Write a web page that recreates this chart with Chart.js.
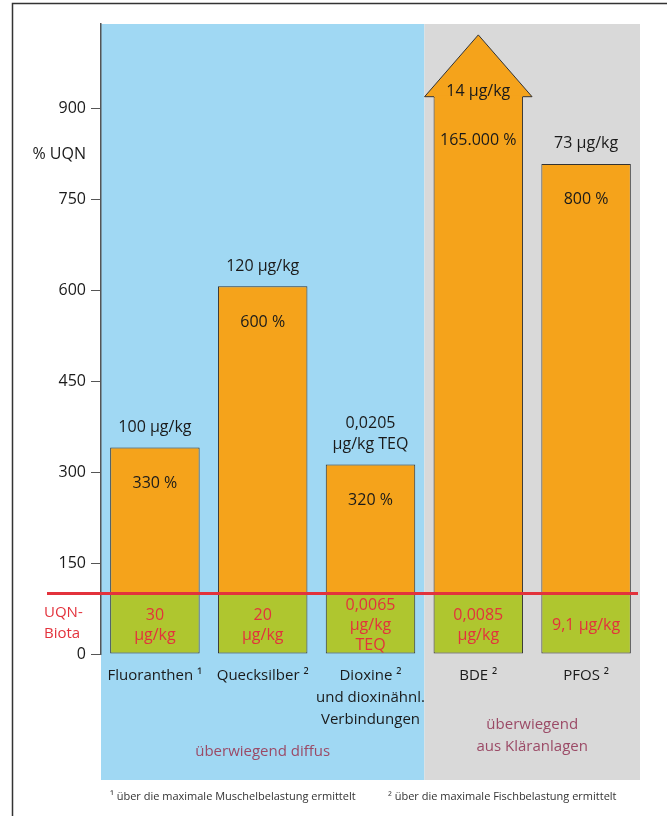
<!DOCTYPE html>
<html>
<head>
<meta charset="utf-8">
<script src="https://cdn.jsdelivr.net/npm/chart.js@4/dist/chart.umd.min.js"></script>
<style>
html, body { margin: 0; padding: 0; background: #fff; }
canvas { display: block; }
</style>
</head>
<body>
<canvas id="myChart" width="667" height="816"></canvas>
<script>
// data (% UQN scale, the UQN line sits at 100)
var categories = [["Fluoranthen ¹"], ["Quecksilber ²"], ["Dioxine ²", "und dioxinähnl.", "Verbindungen"], ["BDE ²"], ["PFOS ²"]];
var uqnLevel = [100, 100, 100, 100, 100];
var barTops = [341, 607, 313, 920, 809];
var arrowTip = [null, null, null, 1022, null];
var aboveLabels = [["100 µg/kg"], ["120 µg/kg"], ["0,0205", "µg/kg TEQ"], ["14 µg/kg"], ["73 µg/kg"]];
var pctLabels = ["330 %", "600 %", "320 %", "165.000 %", "800 %"];
var uqnLabels = [["30", "µg/kg"], ["20", "µg/kg"], ["0,0065", "µg/kg", "TEQ"], ["0,0085", "µg/kg"], ["9,1 µg/kg"]];
var yTicks = [0, 150, 300, 450, 600, 750, 900];
var groupNames = [["überwiegend diffus"], ["überwiegend", "aus Kläranlagen"]];
var groupFrom = [0, 3];
var groupTo = [2, 4];
var footnotes = ["¹ über die maximale Muschelbelastung ermittelt", "² über die maximale Fischbelastung ermittelt"];

var orangeParts = barTops.map(function (t, i) { return t - uqnLevel[i]; });

var FONT = '"Open Sans", "Noto Sans", sans-serif';
var ORANGE = '#f5a31b';
var GREEN = '#afc62f';
var RED = '#e3323c';
var TEXT = '#1a1a1a';
var bgColors = ['#a0d8f3', '#d9d9d9'];

function drawLines(ctx, lines, cx, cy, lh) {
    // cy is the middle of the whole block
    var start = cy - (lines.length - 1) * lh / 2;
    lines.forEach(function (s, i) { ctx.fillText(s, cx, start + i * lh); });
}

var decor = {
    id: 'decor',
    beforeDraw: function (chart) {
        var ctx = chart.ctx, a = chart.chartArea, x = chart.scales.x;
        var half = (x.getPixelForValue(1) - x.getPixelForValue(0)) / 2;
        var bgBottom = a.bottom + 126;
        ctx.save();
        groupFrom.forEach(function (f, g) {
            var l = f === 0 ? a.left : x.getPixelForValue(f) - half;
            var r = groupTo[g] === categories.length - 1 ? a.right : x.getPixelForValue(groupTo[g]) + half;
            ctx.fillStyle = bgColors[g];
            ctx.fillRect(l, a.top, r - l, bgBottom - a.top);
            ctx.fillStyle = '#9b4a66';
            ctx.font = '15px ' + FONT;
            ctx.textAlign = 'center';
            ctx.textBaseline = 'middle';
            var lines = groupNames[g];
            if (lines.length === 1) drawLines(ctx, lines, (l + r) / 2, bgBottom - 28, 22);
            else drawLines(ctx, lines, (l + r) / 2, bgBottom - 44, 22);
        });
        // frame
        ctx.strokeStyle = '#333';
        ctx.lineWidth = 1.5;
        ctx.beginPath();
        ctx.moveTo(chart.width, 3.5);
        ctx.lineTo(12.5, 3.5);
        ctx.lineTo(12.5, chart.height);
        ctx.stroke();
        ctx.restore();
    },
    afterDatasetsDraw: function (chart) {
        var ctx = chart.ctx, a = chart.chartArea, y = chart.scales.y;
        var meta = chart.getDatasetMeta(1);
        ctx.save();
        // arrow head for the value off the scale
        arrowTip.forEach(function (tip, i) {
            if (tip === null) return;
            var el = meta.data[i];
            var bw = el.width / 2, hw = bw + 9;
            var ys = y.getPixelForValue(barTops[i]), yt = y.getPixelForValue(tip);
            ctx.fillStyle = ORANGE;
            ctx.beginPath();
            ctx.moveTo(el.x - hw, ys);
            ctx.lineTo(el.x, yt);
            ctx.lineTo(el.x + hw, ys);
            ctx.closePath();
            ctx.fill();
            ctx.fillRect(el.x - bw + 1, ys - 1, bw * 2 - 2, 3);
            ctx.strokeStyle = '#333';
            ctx.lineWidth = 1;
            ctx.beginPath();
            ctx.moveTo(el.x - bw + 0.5, ys);
            ctx.lineTo(el.x - hw, ys);
            ctx.lineTo(el.x, yt);
            ctx.lineTo(el.x + hw, ys);
            ctx.lineTo(el.x + bw - 0.5, ys);
            ctx.stroke();
        });
        ctx.textAlign = 'center';
        ctx.textBaseline = 'middle';
        ctx.font = '16px ' + FONT;
        meta.data.forEach(function (el, i) {
            var top = y.getPixelForValue(barTops[i]);
            var lines = aboveLabels[i];
            ctx.fillStyle = TEXT;
            var last = arrowTip[i] !== null ? top - 5 : top - 20;
            lines.forEach(function (s, k) { ctx.fillText(s, el.x, last - (lines.length - 1 - k) * 21); });
            ctx.fillText(pctLabels[i], el.x, top + (arrowTip[i] !== null ? 44 : 36));
            ctx.fillStyle = RED;
            var mid = (y.getPixelForValue(0) + y.getPixelForValue(uqnLevel[i])) / 2 + 2;
            drawLines(ctx, uqnLabels[i], el.x, mid, 20);
        });
        // UQN line
        var yu = y.getPixelForValue(uqnLevel[0]);
        ctx.strokeStyle = RED;
        ctx.lineWidth = 3;
        ctx.beginPath();
        ctx.moveTo(47, yu);
        ctx.lineTo(a.right - 2, yu);
        ctx.stroke();
        ctx.fillStyle = RED;
        ctx.font = '15px ' + FONT;
        ctx.textAlign = 'left';
        drawLines(ctx, ['UQN-', 'Biota'], 44, (yu + y.getPixelForValue(0)) / 2, 21);
        // axis unit
        ctx.fillStyle = TEXT;
        ctx.font = '16px ' + FONT;
        ctx.textAlign = 'right';
        ctx.fillText('% UQN', 86, y.getPixelForValue(825));
        // footnotes
        ctx.font = '11px ' + FONT;
        ctx.textAlign = 'left';
        ctx.fillStyle = '#333';
        ctx.fillText(footnotes[0], 110, a.bottom + 143);
        ctx.fillText(footnotes[1], 388, a.bottom + 143);
        ctx.restore();
    }
};

new Chart("myChart", {
    type: "bar",
    data: {
        labels: categories,
        datasets: [{
            data: uqnLevel,
            backgroundColor: GREEN,
            borderColor: '#333',
            borderWidth: 1,
            borderSkipped: false
        }, {
            data: orangeParts,
            backgroundColor: ORANGE,
            borderColor: '#333',
            borderWidth: 1,
            borderSkipped: false
        }]
    },
    options: {
        responsive: false,
        animation: false,
        layout: { padding: { left: 12, right: 27, top: 24, bottom: 0 } },
        plugins: { legend: { display: false }, tooltip: { enabled: false } },
        datasets: { bar: { barPercentage: 0.83, categoryPercentage: 1 } },
        scales: {
            x: {
                stacked: true,
                grid: { display: false },
                border: { display: false },
                ticks: {
                    font: { family: FONT, size: 15, lineHeight: 1.47 },
                    color: TEXT,
                    padding: 3,
                    maxRotation: 0,
                    autoSkip: false
                },
                afterFit: function (s) { s.height = 162; }
            },
            y: {
                stacked: true,
                min: 0,
                max: 1040,
                grid: { drawOnChartArea: false, drawTicks: true, tickLength: 10, color: '#555' },
                border: { display: true, color: '#555', width: 1.5 },
                ticks: { font: { family: FONT, size: 16 }, color: TEXT, padding: 5 },
                afterBuildTicks: function (s) { s.ticks = yTicks.map(function (v) { return { value: v }; }); },
                afterFit: function (s) { s.width = 89; }
            }
        }
    },
    plugins: [decor]
});
</script>
</body>
</html>
